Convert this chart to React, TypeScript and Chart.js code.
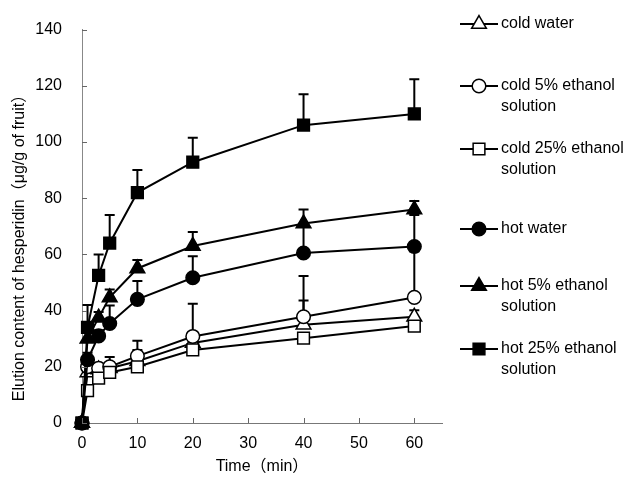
import React, { useEffect, useRef } from 'react';
import { Chart, registerables } from 'chart.js';

Chart.register(...registerables);

// ---- data ----
const times = [0, 1, 3, 5, 10, 20, 40, 60];

const coldWater = [0, 18, 19, 19.5, 22, 28.5, 35, 37.8];
const coldWaterErr = [0, 20, 21, 21.5, 26, 31, 43.6, 40.1];

const cold5 = [0, 20, 19.5, 20, 23.8, 30.8, 37.8, 44.7];
const cold5Err = [0, 22, 21, 23.5, 29.3, 42.4, 52.3, 61];

const cold25 = [0, 11.5, 16, 18, 20, 26, 30.2, 34.5];
const cold25Err = [0, 13, 17.5, 19.5, 21.5, 27.5, 31.5, 36];

const hotWater = [0, 22.5, 31, 35.4, 44, 51.7, 60.5, 62.8];
const hotWaterErr = [0, 25, 33, 41.8, 50.5, 59.3, 71, 74];

const hot5 = [0, 30, 37.5, 44.7, 55, 63, 71, 76];
const hot5Err = [0, 33, 39.5, 47.5, 58, 68, 76, 79];

const hot25 = [0, 34, 52.5, 64, 82, 92.8, 106, 110];
const hot25Err = [0, 42, 60, 74, 90, 101.5, 117, 122.3];

const seriesNames = [
  'cold water',
  'cold 5% ethanol solution',
  'cold 25% ethanol solution',
  'hot water',
  'hot 5% ethanol solution',
  'hot 25% ethanol solution',
];
const legendLines = [
  ['cold water'],
  ['cold 5% ethanol', 'solution'],
  ['cold 25% ethanol', 'solution'],
  ['hot water'],
  ['hot 5% ethanol', 'solution'],
  ['hot 25% ethanol', 'solution'],
];
const seriesValues = [coldWater, cold5, cold25, hotWater, hot5, hot25];
const seriesErrors = [coldWaterErr, cold5Err, cold25Err, hotWaterErr, hot5Err, hot25Err];
const seriesStyles = ['triangle', 'circle', 'rect', 'circle', 'triangle', 'rect'];
const seriesFilled = [false, false, false, true, true, true];

const xTitle = 'Time（min）';
const yTitle = 'Elution content of hesperidin（μg/g of fruit）';

// ---- layout / style ----
const W = 633;
const H = 479;
const FONT_FAMILY = '"Liberation Sans", "Noto Sans CJK JP", Arial, sans-serif';
const FONT_SIZE = 16;
const legendTop = [24, 86, 149, 229, 286, 349];
const legendLineGap = 21;

function markerRadius(style: string) {
  if (style === 'rect') return 8.3;
  if (style === 'triangle') return 8.5;
  return 6.8;
}

function drawMarker(ctx: CanvasRenderingContext2D, style: string, filled: boolean, x: number, y: number) {
  const r = markerRadius(style);
  ctx.save();
  ctx.beginPath();
  if (style === 'rect') {
    const s = r * Math.SQRT1_2;
    ctx.rect(x - s, y - s, 2 * s, 2 * s);
  } else if (style === 'triangle') {
    let a = 0;
    ctx.moveTo(x + Math.sin(a) * r, y - Math.cos(a) * r);
    a += (2 * Math.PI) / 3;
    ctx.lineTo(x + Math.sin(a) * r, y - Math.cos(a) * r);
    a += (2 * Math.PI) / 3;
    ctx.lineTo(x + Math.sin(a) * r, y - Math.cos(a) * r);
    ctx.closePath();
  } else {
    ctx.arc(x, y, r, 0, Math.PI * 2);
  }
  ctx.fillStyle = filled ? '#000' : '#fff';
  ctx.fill();
  ctx.lineWidth = 1.5;
  ctx.strokeStyle = '#000';
  ctx.stroke();
  ctx.restore();
}

const decorPlugin = {
  id: 'decor',
  beforeDatasetsDraw(chart: any) {
    const ctx = chart.ctx as CanvasRenderingContext2D;
    const xs = chart.scales.x;
    const ys = chart.scales.y;
    ctx.save();
    ctx.strokeStyle = '#000';
    ctx.lineWidth = 2;
    seriesErrors.forEach((errs, i) => {
      errs.forEach((top, j) => {
        const v = seriesValues[i][j];
        if (top <= v) return;
        const px = xs.getPixelForValue(times[j]);
        const py0 = ys.getPixelForValue(v);
        const py1 = ys.getPixelForValue(top);
        ctx.beginPath();
        ctx.moveTo(px, py0);
        ctx.lineTo(px, py1);
        ctx.moveTo(px - 5, py1);
        ctx.lineTo(px + 5, py1);
        ctx.stroke();
      });
    });
    ctx.restore();
  },
  afterDraw(chart: any) {
    const ctx = chart.ctx as CanvasRenderingContext2D;
    const xs = chart.scales.x;
    const ys = chart.scales.y;
    const area = chart.chartArea;
    ctx.save();
    // inside tick marks
    ctx.strokeStyle = '#666';
    ctx.lineWidth = 1;
    xs.ticks.forEach((t: any) => {
      const px = Math.round(xs.getPixelForValue(t.value)) + 0.5;
      ctx.beginPath();
      ctx.moveTo(px, area.bottom);
      ctx.lineTo(px, area.bottom - 5);
      ctx.stroke();
    });
    ys.ticks.forEach((t: any) => {
      const py = Math.round(ys.getPixelForValue(t.value)) + 0.5;
      ctx.beginPath();
      ctx.moveTo(area.left, py);
      ctx.lineTo(area.left + 5, py);
      ctx.stroke();
    });
    // titles
    ctx.fillStyle = '#000';
    ctx.font = `${FONT_SIZE}px ${FONT_FAMILY}`;
    ctx.textAlign = 'center';
    ctx.textBaseline = 'middle';
    ctx.fillText(xTitle, (area.left + area.right) / 2, 467);
    ctx.save();
    ctx.translate(20, 244);
    ctx.rotate(-Math.PI / 2);
    ctx.fillText(yTitle, 0, 0);
    ctx.restore();
    // legend
    legendLines.forEach((lines, i) => {
      const y = legendTop[i];
      ctx.strokeStyle = '#000';
      ctx.lineWidth = 2;
      ctx.beginPath();
      ctx.moveTo(460, y);
      ctx.lineTo(498, y);
      ctx.stroke();
      drawMarker(ctx, seriesStyles[i], seriesFilled[i], 479, y);
      ctx.fillStyle = '#000';
      ctx.textAlign = 'left';
      ctx.textBaseline = 'middle';
      lines.forEach((ln, k) => {
        ctx.fillText(ln, 501, y + k * legendLineGap);
      });
    });
    ctx.restore();
  },
};

export default function App() {
  const ref = useRef<HTMLCanvasElement | null>(null);
  useEffect(() => {
    if (!ref.current) return;
    const datasets = seriesNames.map((name, i) => ({
      label: name,
      data: times.map((t, j) => ({ x: t, y: seriesValues[i][j] })),
      borderColor: '#000',
      borderWidth: 2,
      pointStyle: seriesStyles[i],
      pointRadius: markerRadius(seriesStyles[i]),
      pointBackgroundColor: seriesFilled[i] ? '#000' : '#fff',
      pointBorderColor: '#000',
      pointBorderWidth: 1.5,
      tension: 0,
      order: 6 - i,
      clip: false as any,
    }));
    const chart = new Chart(ref.current, {
      type: 'line',
      data: { datasets },
      options: {
        animation: false,
        responsive: false,
        layout: { padding: { left: 0, top: 22, right: 191, bottom: 0 } },
        plugins: { legend: { display: false }, tooltip: { enabled: false } },
        scales: {
          x: {
            type: 'linear',
            min: 0,
            max: 65,
            afterBuildTicks: (s: any) => {
              s.ticks = s.ticks.filter((t: any) => t.value <= 60);
            },
            afterFit: (s: any) => {
              s.height = 56;
            },
            ticks: {
              stepSize: 10,
              color: '#000',
              padding: 11,
              font: { family: FONT_FAMILY, size: FONT_SIZE },
              maxRotation: 0,
            },
            grid: { display: true, drawOnChartArea: false, drawTicks: false },
            border: { display: true, color: '#777', width: 1 },
          },
          y: {
            type: 'linear',
            min: 0,
            max: 140,
            afterFit: (s: any) => {
              s.width = 82;
            },
            ticks: {
              stepSize: 20,
              color: '#000',
              padding: 20,
              font: { family: FONT_FAMILY, size: FONT_SIZE },
            },
            grid: { display: true, drawOnChartArea: false, drawTicks: false },
            border: { display: true, color: '#888', width: 1 },
          },
        },
      },
      plugins: [decorPlugin],
    });
    return () => chart.destroy();
  }, []);
  return (
    <div style={{ position: 'fixed', left: 0, top: 0, width: W, height: H, background: '#fff' }}>
      <canvas ref={ref} width={W} height={H} style={{ width: W, height: H, display: 'block' }} />
    </div>
  );
}
